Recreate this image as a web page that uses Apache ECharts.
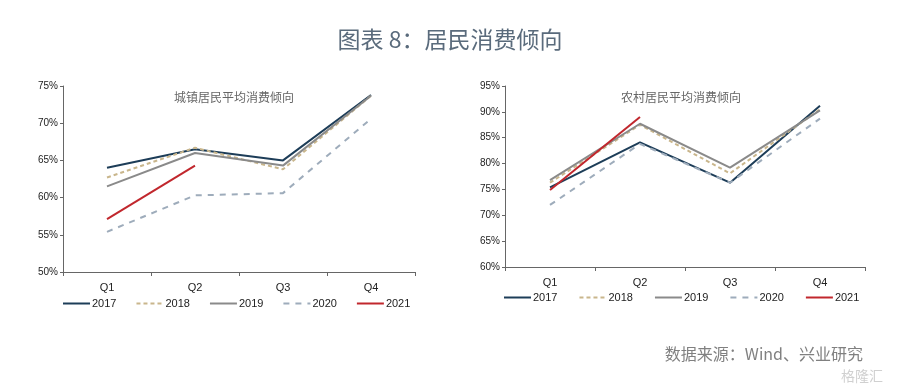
<!DOCTYPE html>
<html><head><meta charset="utf-8">
<script src="https://cdn.jsdelivr.net/npm/echarts@6/dist/echarts.min.js"></script>
<style>html,body{margin:0;padding:0;background:#fff}#c{width:900px;height:389px}</style>
</head><body><div id="c"></div>
<script>
const categories = ['Q1','Q2','Q3','Q4'];
const years = ['2017','2018','2019','2020','2021'];
// 城镇居民平均消费倾向 (%)
const urban2017 = [64.0, 66.5, 65.0, 73.8];
const urban2018 = [62.7, 66.7, 63.8, 73.7];
const urban2019 = [61.5, 66.0, 64.3, 73.7];
const urban2020 = [55.4, 60.3, 60.6, 70.6];
const urban2021 = [57.1, 64.3];
// 农村居民平均消费倾向 (%)
const rural2017 = [75.4, 84.1, 76.3, 91.2];
const rural2018 = [76.3, 87.5, 78.1, 90.5];
const rural2019 = [76.8, 87.7, 79.2, 90.3];
const rural2020 = [72.0, 83.8, 76.3, 88.7];
const rural2021 = [74.9, 89.0];
const urbanTicks = [50, 55, 60, 65, 70, 75];
const ruralTicks = [60, 65, 70, 75, 80, 85, 90, 95];

const styles = [
  {color:'#1d3d58', type:'solid'},
  {color:'#c9b68c', type:[4,3]},
  {color:'#8a8a8a', type:'solid'},
  {color:'#9eacbb', type:[6,6]},
  {color:'#c1272d', type:'solid'}
];
const urban = [urban2017, urban2018, urban2019, urban2020, urban2021];
const rural = [rural2017, rural2018, rural2019, rural2020, rural2021];
const narrow = '"Liberation Sans Narrow", "Arial Narrow", "Liberation Sans", sans-serif';

function mkSeries(data, idx){
  return years.map((y,i)=>({
    name:y, type:'line', xAxisIndex:idx, yAxisIndex:idx, data:data[i],
    symbol:'none', smooth:false,
    lineStyle:{color:styles[i].color, width:2, type:styles[i].type},
    itemStyle:{color:styles[i].color},
    z: i===4 ? 5 : 3
  }));
}
function mkX(gi){
  return {type:'category', gridIndex:gi, data:categories, boundaryGap:true,
    axisLine:{lineStyle:{color:'#666', width:1}},
    axisTick:{show:true, length:4, lineStyle:{color:'#666'}},
    axisLabel:{color:'#222', fontSize:11, fontFamily:narrow, margin:10}};
}
function mkY(gi, ticks){
  return {type:'value', gridIndex:gi, min:ticks[0], max:ticks[ticks.length-1], interval:5,
    axisLine:{show:true, lineStyle:{color:'#666'}},
    axisTick:{show:true, length:3, lineStyle:{color:'#666'}},
    splitLine:{show:false},
    axisLabel:{color:'#222', fontSize:10, fontFamily:narrow, margin:5, formatter:'{value}%'}};
}
function mkLegend(left, top, gap){
  return {data:years, left:left, top:top, orient:'horizontal', itemWidth:27, itemHeight:10, itemGap:gap,
    itemStyle:{opacity:0},
    textStyle:{fontSize:11, fontFamily:narrow, color:'#222', padding:[0,0,0,-3]},
    selectedMode:false};
}
const chart = echarts.init(document.getElementById('c'));
chart.setOption({
  animation:false,
  backgroundColor:'#fff',
  title:[
    {text:'图表 8：居民消费倾向', left:'center', top:23,
     textStyle:{fontFamily:'"Noto Sans CJK SC", sans-serif', fontSize:23, fontWeight:'normal', color:'#5a6b7c'}},
    {text:'城镇居民平均消费倾向', left:229, top:86, textAlign:'center',
     textStyle:{fontFamily:'"Noto Sans CJK SC", serif', fontSize:12, fontWeight:'normal', color:'#666'}},
    {text:'农村居民平均消费倾向', left:676, top:86, textAlign:'center',
     textStyle:{fontFamily:'"Noto Sans CJK SC", serif', fontSize:12, fontWeight:'normal', color:'#666'}},
    {text:'数据来源：Wind、兴业研究', right:32, top:341,
     textStyle:{fontFamily:'"Noto Sans CJK SC", sans-serif', fontSize:16, fontWeight:'normal', color:'#808080'}},
    {text:'格隆汇', right:12, top:364,
     textStyle:{fontFamily:'"Noto Sans CJK SC", sans-serif', fontSize:14, fontWeight:'normal', color:'#d0d0d0'}}
  ],
  legend:[mkLegend(57, 293, 19), mkLegend(498, 287, 21)],
  grid:[
    {left:63, right:485, top:86, bottom:117},
    {left:505, right:35, top:86, bottom:122}
  ],
  xAxis:[mkX(0), mkX(1)],
  yAxis:[mkY(0, urbanTicks), mkY(1, ruralTicks)],
  series:[...mkSeries(urban,0), ...mkSeries(rural,1)]
});
</script></body></html>
